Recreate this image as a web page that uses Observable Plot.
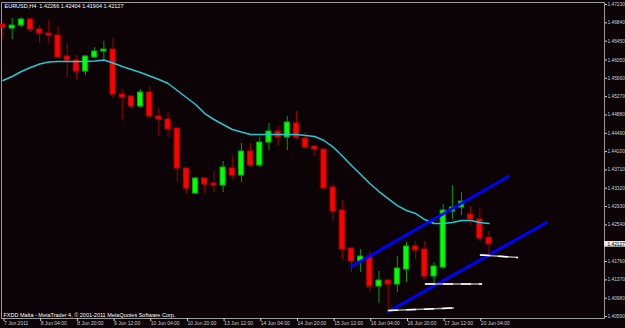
<!DOCTYPE html>
<html><head><meta charset="utf-8">
<script src="https://cdn.jsdelivr.net/npm/d3@7"></script>
<script src="https://cdn.jsdelivr.net/npm/@observablehq/plot@0.6"></script>
<style>
html,body{margin:0;padding:0;background:#0b0305;}
#chart svg{display:block}
</style></head><body><div id="chart"></div>
<script>
// ---- data (EURUSD H4, bars 1..54) ----
const opens = [1.46804,1.46719,1.46783,1.46911,1.46698,1.46613,1.46570,1.46123,1.46038,1.45804,
1.46102,1.46230,1.46272,1.45315,1.45272,1.45059,1.45357,1.44846,1.44783,1.44591,
1.43740,1.43208,1.43527,1.43420,1.43378,1.43740,1.43591,1.44102,1.43804,1.44293,
1.44527,1.44400,1.44697,1.44378,1.44208,1.44144,1.43335,1.42846,1.42037,1.41761,
1.41867,1.41229,1.41356,1.41271,1.41590,1.42080,1.42016,1.41441,1.41633,1.42825,
1.42910,1.42761,1.42654,1.42266];
const highs = [1.46826,1.46932,1.46953,1.46932,1.46783,1.46890,1.46762,1.46400,1.46145,1.46145,
1.46315,1.46443,1.46528,1.45421,1.45272,1.45421,1.45485,1.45017,1.44932,1.44591,
1.43740,1.43548,1.43527,1.43676,1.43889,1.44016,1.44272,1.44272,1.44400,1.44697,
1.44634,1.44846,1.44953,1.44506,1.44208,1.44144,1.43420,1.43059,1.42037,1.42016,
1.41973,1.41548,1.41356,1.41867,1.42165,1.42186,1.42186,1.41739,1.42974,1.43378,
1.43229,1.42931,1.42889,1.42404];
const lows = [1.46485,1.46485,1.46741,1.46634,1.46400,1.46400,1.46090,1.45676,1.45634,1.45719,
1.46090,1.46038,1.45230,1.44783,1.44995,1.45038,1.44804,1.44421,1.44400,1.43442,
1.43208,1.43187,1.43208,1.43229,1.43229,1.43506,1.43442,1.43761,1.43761,1.44123,
1.44208,1.44123,1.44357,1.44187,1.44016,1.43314,1.42612,1.41803,1.41526,1.41526,
1.41101,1.40867,1.40696,1.41101,1.41314,1.41803,1.41377,1.41292,1.41590,1.42654,
1.42740,1.42527,1.42186,1.41904];
const closes = [1.46741,1.46783,1.46911,1.46698,1.46613,1.46570,1.46102,1.46038,1.45804,1.46123,
1.46230,1.46272,1.45315,1.45251,1.45059,1.45357,1.44846,1.44783,1.44570,1.43740,
1.43314,1.43527,1.43399,1.43378,1.43761,1.43591,1.44102,1.43804,1.44293,1.44527,
1.44400,1.44719,1.44400,1.44187,1.44144,1.43314,1.42825,1.42016,1.41761,1.41867,
1.41229,1.41356,1.41271,1.41612,1.42080,1.41995,1.41441,1.41654,1.42846,1.42910,
1.43037,1.42654,1.42250,1.42127];
const maValues = [1.45613,1.45698,1.45804,1.45889,1.45964,1.46006,1.46017,1.46017,1.46017,1.46017,
1.46028,1.46049,1.45985,1.45910,1.45847,1.45783,1.45708,1.45634,1.45549,1.45400,
1.45251,1.45102,1.44910,1.44783,1.44676,1.44570,1.44517,1.44463,1.44463,1.44463,
1.44463,1.44463,1.44463,1.44442,1.44421,1.44336,1.44197,1.44006,1.43804,1.43612,
1.43420,1.43250,1.43101,1.42952,1.42846,1.42782,1.42654,1.42569,1.42569,1.42591,
1.42633,1.42633,1.42591,1.42569];

const xTickBars = [1,5,9,13,17,21,25,29,33,37,41,45,49,53];
const xTickLabels = ["7 Jun 2011","8 Jun 04:00","8 Jun 20:00","9 Jun 12:00","10 Jun 04:00","10 Jun 20:00",
"13 Jun 12:00","14 Jun 04:00","14 Jun 20:00","15 Jun 12:00","16 Jun 04:00","16 Jun 20:00","17 Jun 12:00","20 Jun 04:00"];
const yTickValues = [1.47230,1.46840,1.46450,1.46050,1.45660,1.45270,1.44880,1.44490,1.44100,
1.43710,1.43320,1.42930,1.42540,1.41760,1.41370,1.40980,1.40590];

// channel lines (bar position, price)
const trendBars = [[39, 56.1], [43.04, 60.27]];
const trendPrices = [[1.41654, 1.43570], [1.40696, 1.42591]];
// short white level lines
const levelBars = [[53.07, 57.1], [47.07, 53.18], [43.04, 50.13]];
const levelPrices = [[1.41899, 1.41846], [1.41282, 1.41282], [1.40718, 1.40771]];

const headerText = "EURUSD,H4  1.42266 1.42404 1.41904 1.42127";
const footerText = "FXDD Malta - MetaTrader 4, \u00a9 2001-2011 MetaQuotes Software Corp.";
const lastPrice = 1.42127;

// ---- build tables ----
const candles = opens.map((o, i) => ({bar: i + 1, open: o, high: highs[i], low: lows[i], close: closes[i], up: closes[i] > o}));
const ma = maValues.map((v, i) => ({bar: i + 1, v}));
const trend = trendBars.flatMap((b, k) => b.map((x, j) => ({k, bar: x, price: trendPrices[k][j]})));
const levels = levelBars.flatMap((b, k) => b.map((x, j) => ({k, bar: x, price: levelPrices[k][j]})));
const labelMap = new Map(xTickBars.map((b, i) => [b, xTickLabels[i]]));

const xDomain = [0.836, 66.59];
const font = "'Liberation Sans', Arial, sans-serif";

const chart = Plot.plot({
  width: 625, height: 328,
  marginLeft: 1, marginRight: 21, marginTop: 2, marginBottom: 10,
  style: {background: "#0b0305", color: "#d0d0d0", fontFamily: font},
  x: {domain: xDomain, axis: null, label: null},
  y: {domain: [1.40548, 1.47273], axis: null, label: null},
  marks: [
    Plot.frame({stroke: "#9a9a9a"}),
    Plot.ruleX(candles, {x: "bar", y1: "low", y2: "high", stroke: d => d.up ? "#00a000" : "#a00000", strokeWidth: 1}),
    Plot.rect(candles, {x1: d => d.bar - 0.28, x2: d => d.bar + 0.28, y1: "open", y2: "close",
      fill: d => d.up ? "#00ff00" : "#ff0000", stroke: d => d.up ? "#00b000" : "#c00000", strokeWidth: 1}),
    Plot.line(ma, {x: "bar", y: "v", stroke: "#22c8d2", strokeWidth: 1.5}),
    Plot.line(trend, {x: "bar", y: "price", z: "k", stroke: "#0000ff", strokeWidth: 3}),
    Plot.line(levels, {x: "bar", y: "price", z: "k", stroke: "#a8a8a8", strokeWidth: 1.5}),
    Plot.line(levels, {x: "bar", y: "price", z: "k", stroke: "#ffffff", strokeWidth: 1.5, strokeDasharray: "9,9"}),
    Plot.text([headerText], {frameAnchor: "top-left", dx: 3, dy: 2, textAnchor: "start", fill: "#ffffff", fontSize: 5.5}),
    Plot.text([footerText], {frameAnchor: "bottom-left", dx: 2, dy: -2, textAnchor: "start", fill: "#ffffff", fontSize: 5.5}),
    Plot.axisX(xTickBars, {anchor: "bottom", label: null, tickSize: 3, tickPadding: 0, textAnchor: "start", dx: 1,
      tickFormat: d => labelMap.get(d), fontSize: 5, stroke: "#d0d0d0"}),
    Plot.axisY(yTickValues, {anchor: "right", label: null, tickSize: 2, tickPadding: 1, tickFormat: d => d.toFixed(5), fontSize: 4.8}),
    Plot.rect([lastPrice], {x1: xDomain[1], x2: xDomain[1] + 3, y1: d => d - 0.0006, y2: d => d + 0.0006, fill: "#e8e8e8"}),
    Plot.text([lastPrice], {x: xDomain[1], y: d => d, text: d => d.toFixed(5), textAnchor: "start", dx: 3, fill: "#000000", fontSize: 4.8})
  ]
});
document.getElementById("chart").append(chart);
</script>
</body></html>
